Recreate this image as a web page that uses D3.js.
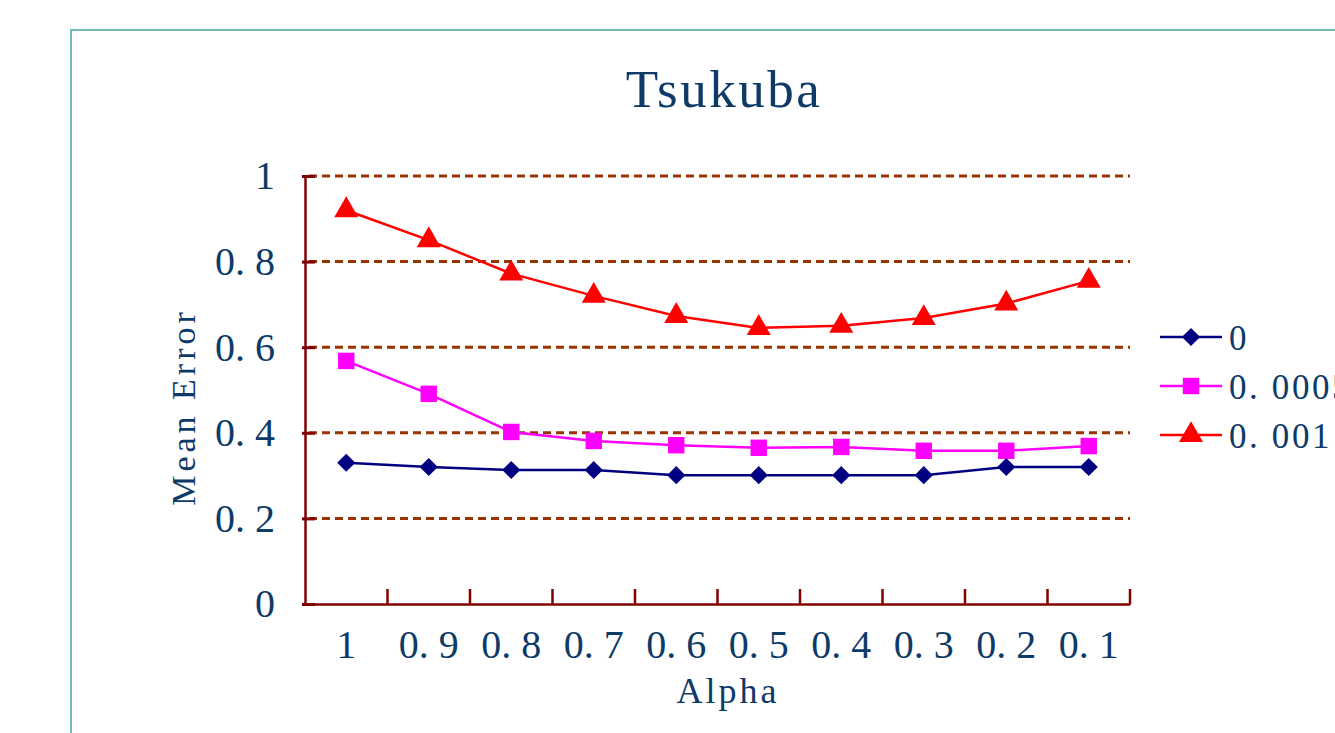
<!DOCTYPE html>
<html>
<head>
<meta charset="utf-8">
<title>Tsukuba</title>
<script src="https://cdn.jsdelivr.net/npm/d3@7"></script>
<style>
  body { margin: 0; background: #fff; }
  text { font-family: "Liberation Serif", "DejaVu Serif", serif; fill: #0e3a68; }
</style>
</head>
<body>
<script>
// chart values
var alphas = ["1", "0.9", "0.8", "0.7", "0.6", "0.5", "0.4", "0.3", "0.2", "0.1"];
var yTicks = [0, 0.2, 0.4, 0.6, 0.8, 1];
var seriesNames = ["0", "0.0005", "0.001"];
var err0 = [0.33, 0.32, 0.313, 0.313, 0.301, 0.301, 0.301, 0.301, 0.32, 0.32];
var err0005 = [0.568, 0.491, 0.402, 0.381, 0.371, 0.365, 0.367, 0.358, 0.358, 0.369];
var err001 = [0.92, 0.85, 0.772, 0.72, 0.673, 0.645, 0.65, 0.668, 0.702, 0.755];

var W = 1335, H = 733;
var plotLeft = 305, plotRight = 1130, plotTop = 176, plotBottom = 604;

var svg = d3.select("body").append("svg")
    .attr("width", W)
    .attr("height", H);

// teal frame around the chart area
svg.append("rect")
    .attr("x", 71).attr("y", 30)
    .attr("width", 1400).attr("height", 800)
    .attr("fill", "none")
    .attr("stroke", "#72b9b9")
    .attr("stroke-width", 2);

var x = d3.scaleBand().domain(alphas).range([plotLeft, plotRight]);
var y = d3.scaleLinear().domain([0, 1]).range([plotBottom, plotTop]);

// labels are drawn as "0. 8" like in the picture
var fmt = function(d) { return String(d).replace(".", ". "); };

// dashed grid lines
svg.append("g").selectAll("line")
    .data(yTicks.filter(function(d) { return d > 0; }))
    .enter().append("line")
    .attr("x1", plotLeft + 4).attr("x2", plotRight)
    .attr("y1", function(d) { return y(d); })
    .attr("y2", function(d) { return y(d); })
    .attr("stroke", "#993300")
    .attr("stroke-width", 3)
    .attr("stroke-dasharray", "8,5");

// y axis
var yAxis = svg.append("g")
    .attr("transform", "translate(" + plotLeft + ",0)")
    .call(d3.axisLeft(y).tickValues(yTicks).tickSize(0).tickPadding(30).tickFormat(fmt));
yAxis.select(".domain").attr("stroke", "#800000").attr("stroke-width", 2.5);
yAxis.selectAll(".tick line").remove();
yAxis.selectAll(".tick").append("line")
    .attr("x1", -3).attr("x2", 10)
    .attr("stroke", "#800000").attr("stroke-width", 3);
yAxis.selectAll("text").attr("font-size", 40).attr("font-family", null).attr("fill", null);

// x axis with inward ticks on band edges
var xAxis = svg.append("g")
    .attr("transform", "translate(0," + plotBottom + ")")
    .call(d3.axisBottom(x).tickSize(0).tickPadding(26).tickFormat(fmt));
xAxis.select(".domain").attr("stroke", "#800000").attr("stroke-width", 2.5);
xAxis.selectAll("text").attr("font-size", 40).attr("font-family", null).attr("fill", null);
svg.append("g").selectAll("line")
    .data(alphas)
    .enter().append("line")
    .attr("x1", function(d) { return x(d) + x.step(); })
    .attr("x2", function(d) { return x(d) + x.step(); })
    .attr("y1", plotBottom).attr("y2", plotBottom - 15)
    .attr("stroke", "#800000").attr("stroke-width", 2.5);

// series (diamond = square turned 45 degrees)
var series = [
  {name: seriesNames[0], values: err0, color: "#000080", shape: d3.symbolSquare, size: 165, rot: 45},
  {name: seriesNames[1], values: err0005, color: "#ff00ff", shape: d3.symbolSquare, size: 270, rot: 0},
  {name: seriesNames[2], values: err001, color: "#ff0000", shape: d3.symbolTriangle, size: 250, rot: 0}
];

var line = d3.line()
    .x(function(d, i) { return x(alphas[i]) + x.bandwidth() / 2; })
    .y(function(d) { return y(d); });

series.forEach(function(s) {
  svg.append("path")
      .datum(s.values)
      .attr("d", line)
      .attr("fill", "none")
      .attr("stroke", s.color)
      .attr("stroke-width", 2.5);
  svg.append("g").selectAll("path")
      .data(s.values)
      .enter().append("path")
      .attr("transform", function(d, i) {
        return "translate(" + (x(alphas[i]) + x.bandwidth() / 2) + "," + y(d) + ") rotate(" + s.rot + ")";
      })
      .attr("d", d3.symbol().type(s.shape).size(s.size))
      .attr("fill", s.color);
});

// legend
var legend = svg.append("g").selectAll("g")
    .data(series)
    .enter().append("g")
    .attr("transform", function(d, i) { return "translate(1160," + (337 + i * 49) + ")"; });
legend.append("line")
    .attr("x1", 0).attr("x2", 62)
    .attr("stroke", function(d) { return d.color; })
    .attr("stroke-width", 2.5);
legend.append("path")
    .attr("transform", function(d) { return "translate(31,0) rotate(" + d.rot + ")"; })
    .attr("d", function(d) { return d3.symbol().type(d.shape).size(d.size)(); })
    .attr("fill", function(d) { return d.color; });
legend.append("text")
    .attr("x", 69).attr("y", 13)
    .attr("font-size", 35)
    .attr("letter-spacing", 2.6)
    .text(function(d) { return fmt(d.name); });

// titles
svg.append("text")
    .attr("x", 724).attr("y", 107)
    .attr("text-anchor", "middle")
    .attr("font-size", 53)
    .attr("letter-spacing", 2.5)
    .text("Tsukuba");

svg.append("text")
    .attr("x", 728).attr("y", 703)
    .attr("text-anchor", "middle")
    .attr("font-size", 36)
    .attr("letter-spacing", 3)
    .text("Alpha");

svg.append("text")
    .attr("transform", "translate(195,407) rotate(-90)")
    .attr("text-anchor", "middle")
    .attr("font-size", 34)
    .attr("letter-spacing", 4)
    .text("Mean Error");
</script>
</body>
</html>
